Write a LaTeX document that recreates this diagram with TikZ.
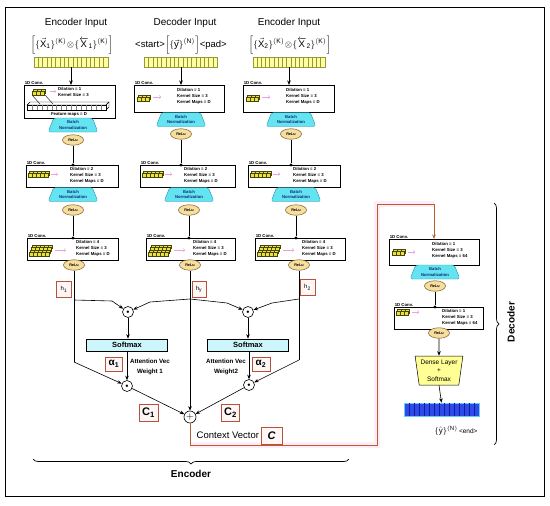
\documentclass[tikz,border=0pt]{standalone}
\usepackage{fontspec}
\setmainfont{Liberation Sans}
\setsansfont{Liberation Sans}
\usetikzlibrary{arrows.meta,shapes.geometric,decorations.pathreplacing,calc}
\definecolor{bnfill}{RGB}{100,228,240}
\definecolor{bndraw}{RGB}{40,150,180}
\definecolor{bntext}{RGB}{20,40,120}
\definecolor{relufill}{RGB}{246,222,158}
\definecolor{reludraw}{RGB}{120,85,30}
\definecolor{inyel}{RGB}{255,255,160}
\definecolor{inyeldraw}{RGB}{150,150,60}
\definecolor{cellyel}{RGB}{236,224,60}
\definecolor{celldraw}{RGB}{70,70,10}
\definecolor{ctxcol}{RGB}{185,95,45}
\definecolor{redbox}{RGB}{185,80,60}
\definecolor{lblfill}{RGB}{255,246,246}
\definecolor{pinkbg}{RGB}{255,236,246}
\definecolor{smfill}{RGB}{204,246,252}
\definecolor{barblue}{RGB}{45,75,235}
\definecolor{barline}{RGB}{20,30,150}
\definecolor{pinkarrow}{RGB}{235,160,225}
\definecolor{densefill}{RGB}{255,255,150}
\newcommand\tensico[6]{%
 \foreach \k in {#4,...,1}{%
  \foreach \i in {1,...,#3}{%
   \draw[fill=cellyel,draw=celldraw,line width=0.3pt]
     ({#1+(\i-1)*4+(\k-1)*#5},{#2-(\k-1)*#6}) rectangle ++(4,-3.4);
  }}}
\newcommand\cellsin[4]{%
 \foreach \q in {1,...,#2}{\draw[#4,line width=0.4pt] ($(#1.north west)+({\q*#3},0)$) -- ($(#1.south west)+({\q*#3},0)$);}}
\begin{document}
\begin{tikzpicture}[x=1pt,y=-1pt,
 hdr/.style={font=\fontsize{10}{12}\selectfont, inner sep=0},
 frm/.style={font=\fontsize{9.5}{11}\selectfont, inner sep=0},
 inbar/.style={draw=inyeldraw, fill=inyel, minimum height=10, inner sep=0, line width=0.5pt},
 convbox/.style={draw, fill=white, anchor=north west, inner sep=0, line width=0.6pt},
 boxtxt/.style={font=\fontsize{4.3}{6.3}\selectfont\bfseries, align=left, anchor=north west, inner sep=0},
 convlbl/.style={font=\fontsize{4.3}{5}\selectfont\bfseries, anchor=south west, inner sep=0.6pt},
 bnbox/.style={trapezium, trapezium left angle=65, trapezium right angle=65, trapezium stretches=true, draw=bndraw, fill=bnfill, rounded corners=2.5pt, minimum width=50, minimum height=14, inner sep=0, align=center, text=bntext, font=\fontsize{4.2}{5.5}\selectfont\bfseries},
 relu/.style={ellipse, draw=reludraw, fill=relufill, minimum width=21, minimum height=10.5, inner sep=0, line width=0.5pt, font=\fontsize{3.8}{4}\selectfont\bfseries},
 jdot/.style={circle, fill=black, inner sep=0, minimum size=3.2},
 opc/.style={circle, draw, fill=white, inner sep=0, minimum size=11, line width=0.6pt},
 softbox/.style={draw, fill=smfill, minimum width=81, minimum height=12, inner sep=0, line width=0.6pt, font=\fontsize{7.5}{8}\selectfont\bfseries},
 lblbox/.style={draw=redbox, fill=lblfill, inner sep=0, line width=0.6pt},
 attn/.style={font=\fontsize{6.2}{10}\selectfont\bfseries, align=center, inner sep=0},
 ln/.style={line width=0.6pt},
 arr/.style={line width=0.6pt, -{Stealth[length=4.5pt,width=3.5pt]}},
 parr/.style={draw=pinkarrow, line width=0.4pt, -{Straight Barb[length=1.5pt,width=3pt]}},
 ctxl/.style={draw=ctxcol, line width=0.9pt},
 brc/.style={decorate, decoration={brace, amplitude=5pt}, line width=0.7pt}
]
\useasboundingbox (0,0) rectangle (550,506);
\draw[line width=0.8pt] (5,7) rectangle (544,496);

% headers
\node[hdr] (h1t) at (76,23) {Encoder Input};
\node[hdr] (h2t) at (185,23) {Decoder Input};
\node[hdr] (h3t) at (289,23) {Encoder Input};
\node[frm] (f1) at (72,45) {$\Bigl[\{\vec{\mathsf{X}}_{\mathsf{1}}\}^{\mathsf{(K)}}\!\otimes\!\{\overleftarrow{\mathsf{X}}_{\mathsf{1}}\}^{\mathsf{(K)}}\Bigr]$};
\node[frm] (f2) at (181,45) {<start>$\Bigl[\{\vec{\mathsf{y}}\}^{\mathsf{(N)}}\Bigr]$<pad>};
\node[frm] (f3) at (290,45) {$\Bigl[\{\vec{\mathsf{X}}_{\mathsf{2}}\}^{\mathsf{(K)}}\!\otimes\!\{\overleftarrow{\mathsf{X}}_{\mathsf{2}}\}^{\mathsf{(K)}}\Bigr]$};

% input bars
\node[inbar, minimum width=74] (in1) at (71,62) {};
\node[inbar, minimum width=73] (in2) at (181,62) {};
\node[inbar, minimum width=72] (in3) at (289,62) {};
\cellsin{in1}{16}{4.353}{inyeldraw}
\cellsin{in2}{16}{4.294}{inyeldraw}
\cellsin{in3}{16}{4.235}{inyeldraw}

% conv boxes
\node[convbox, minimum width=91, minimum height=33] (b11) at (24,85) {};
\node[convbox, minimum width=92, minimum height=22] (b12) at (26,165) {};
\node[convbox, minimum width=91, minimum height=22] (b13) at (27,238) {};
\node[convbox, minimum width=90, minimum height=27] (b21) at (134,85) {};
\node[convbox, minimum width=95, minimum height=22] (b22) at (140,165) {};
\node[convbox, minimum width=89, minimum height=22] (b23) at (146,238) {};
\node[convbox, minimum width=91, minimum height=27] (b31) at (243,85) {};
\node[convbox, minimum width=92, minimum height=22] (b32) at (248,165) {};
\node[convbox, minimum width=90, minimum height=22] (b33) at (255,238) {};
\node[convbox, minimum width=90, minimum height=26] (db1) at (389,239) {};
\node[convbox, minimum width=89, minimum height=22] (db2) at (394,307) {};
\foreach \b in {b11,b12,b13,b21,b22,b23,b31,b32,b33,db1,db2}
  \node[convlbl] (l\b) at (\b.north west) {1D Conv.};

% box texts
\node[boxtxt] (t11) at (58,87) {Dilation = 1\\Kernel Size = 3};
\node[font=\fontsize{4.3}{5}\selectfont\bfseries, inner sep=0] (t11b) at (69,114) {Feature maps = D};
\node[boxtxt] (t21) at (177,88) {Dilation = 1\\Kernel Size = 3\\Kernel Maps = D};
\node[boxtxt] (t31) at (286,88) {Dilation = 1\\Kernel Size = 3\\Kernel Maps = D};
\node[boxtxt] (t12) at (70,167) {Dilation = 2\\Kernel Size = 3\\Kernel Maps = D};
\node[boxtxt] (t22) at (184,167) {Dilation = 2\\Kernel Size = 3\\Kernel Maps = D};
\node[boxtxt] (t32) at (293,167) {Dilation = 2\\Kernel Size = 3\\Kernel Maps = D};
\node[boxtxt] (t13) at (76,240) {Dilation = 4\\Kernel Size = 3\\Kernel Maps = D};
\node[boxtxt] (t23) at (193,240) {Dilation = 4\\Kernel Size = 3\\Kernel Maps = D};
\node[boxtxt] (t33) at (302,240) {Dilation = 4\\Kernel Size = 3\\Kernel Maps = D};
\node[boxtxt] (td1) at (432,242) {Dilation = 1\\Kernel Size = 3\\Kernel Maps = 64};
\node[boxtxt] (td2) at (442,309) {Dilation = 1\\Kernel Size = 3\\Kernel Maps = 64};

% first box: kernel over feature maps
\draw[fill=white, line width=0.4pt] (27,105) -- (30,102) -- (109,102) -- (106,105) -- cycle;
\draw[fill=white, line width=0.4pt] (106,105) -- (109,102) -- (109,107) -- (106,110) -- cycle;
\draw[fill=white, line width=0.4pt] (27,105) rectangle (106,110);
\foreach \q in {1,...,15} \draw[gray, line width=0.3pt] ({27+\q*4.94},105) -- ({27+\q*4.94},110);
\draw[line width=0.4pt] (32,95) -- (40,104);
\draw[line width=0.4pt] (45,95) -- (53,104);
\tensico{32}{95}{3}{2}{1.5}{2}
\draw[parr] (50,91) -- (56,91);

% icons
\tensico{137}{101}{3}{2}{1.5}{2}
\draw[parr] (153,97) -- (161,97);
\tensico{246}{101}{3}{2}{1.5}{2}
\draw[parr] (262,97) -- (270,97);
\tensico{28}{177}{5}{2}{1.5}{2}
\draw[parr] (51,174) -- (58,174);
\tensico{142}{177}{5}{2}{1.5}{2}
\draw[parr] (165,174) -- (172,174);
\tensico{250}{177}{5}{2}{1.5}{2}
\draw[parr] (273,174) -- (280,174);
\tensico{29}{256}{5}{4}{1.2}{2.6}
\draw[parr] (55,250) -- (66,250);
\tensico{148}{256}{5}{4}{1.2}{2.6}
\draw[parr] (174,250) -- (185,250);
\tensico{257}{256}{5}{4}{1.2}{2.6}
\draw[parr] (283,250) -- (294,250);
\tensico{392}{255}{3}{2}{1.5}{2}
\draw[parr] (408,252) -- (415,252);
\tensico{396}{315}{3}{2}{1.5}{2}
\draw[parr] (412,312) -- (419,312);

% batch norm and relu
\node[bnbox] (n11) at (73,125) {Batch\\Normalization};
\node[relu] (r11) at (73,140) {ReLu};
\node[bnbox] (n21) at (181,119.5) {Batch\\Normalization};
\node[relu] (r21) at (181,134) {ReLu};
\node[bnbox] (n31) at (291,119.5) {Batch\\Normalization};
\node[relu] (r31) at (291,134) {ReLu};
\node[bnbox] (n12) at (73,194.5) {Batch\\Normalization};
\node[relu] (r12) at (73,210) {ReLu};
\node[bnbox] (n22) at (189,194.5) {Batch\\Normalization};
\node[relu] (r22) at (189,210) {ReLu};
\node[bnbox] (n32) at (296,194.5) {Batch\\Normalization};
\node[relu] (r32) at (296,210) {ReLu};
\node[relu] (r13) at (74,265) {ReLu};
\node[relu] (r23) at (190,265) {ReLu};
\node[relu] (r33) at (299,265) {ReLu};
\node[bnbox] (dn1) at (435,272) {Batch\\Normalization};
\node[relu] (dr1) at (435,286) {ReLu};
\node[relu] (dr2) at (439,333) {ReLu};

% junction dots
\node[jdot] (d12) at (73,165) {};
\node[jdot] (d22) at (181,165) {};
\node[jdot] (d32) at (291,165) {};
\node[jdot] (d13) at (73,238) {};
\node[jdot] (d23) at (189,238) {};
\node[jdot] (d33) at (296,238) {};
\node[jdot] (dd2) at (435,307) {};

% input arrows and vertical links
\draw[arr] (in1.south) -- (in1.south |- b11.north);
\draw[arr] (in2.south) -- (in2.south |- b21.north);
\draw[arr] (in3.south) -- (in3.south |- b31.north);
\draw[ln] (r11.south) -- (d12);
\draw[ln] (r21.south) -- (d22);
\draw[ln] (r31.south) -- (d32);
\draw[ln] (r12.south) -- (d13);
\draw[ln] (r22.south) -- (d23);
\draw[ln] (r32.south) -- (d33);
\draw[ln] (dr1.south) -- (dd2);

% attention part
\node[opc] (ua) at (128,312) {\fontsize{4}{4}\selectfont$\bullet$};
\node[opc] (ub) at (248,312) {\fontsize{4}{4}\selectfont$\bullet$};
\node[opc] (la) at (127,386) {\fontsize{4}{4}\selectfont$\bullet$};
\node[opc] (lb) at (249,385) {\fontsize{4}{4}\selectfont$\bullet$};
\node[opc, minimum size=12] (pl) at (190,417) {\fontsize{10}{10}\selectfont$+$};
\node[softbox] (sm1) at (127,345) {Softmax};
\node[softbox] (sm2) at (248,345) {Softmax};

\node[lblbox, minimum width=15, minimum height=16, font=\fontsize{6}{6}\selectfont] (hb1) at (64,289.5) {h\textsubscript{1}};
\node[lblbox, minimum width=14, minimum height=16, font=\fontsize{6}{6}\selectfont] (hby) at (199,289.5) {h\textsubscript{y}};
\node[lblbox, minimum width=15, minimum height=16, font=\fontsize{6}{6}\selectfont] (hb2) at (307.5,287.5) {h\textsubscript{2}};

\coordinate (j1) at (74,300);
\coordinate (j1b) at (112,301);
\coordinate (j2) at (190,299);
\coordinate (j2a) at (150,302);
\coordinate (j2b) at (227,303);
\coordinate (j3) at (299,299);
\coordinate (j3a) at (272,303);
\coordinate (k1) at (74,362);
\coordinate (k3) at (299,360);

\draw[ln] (r13.south) -- (k1);
\draw[ln] (r33.south) -- (k3);
\draw[arr] (j1) -- (j1b) -- (ua);
\draw[arr] (j2) -- (j2a) -- (ua);
\draw[arr] (j2) -- (j2b) -- (ub);
\draw[arr] (j3) -- (j3a) -- (ub);
\draw[arr] (ua.south) -- (ua.south |- sm1.north);
\draw[arr] (ub.south) -- (ub.south |- sm2.north);
\draw[arr] (sm1.south -| la) -- (la.north);
\draw[arr] (sm2.south -| lb) -- (lb.north);
\draw[arr] (k1) -- (la);
\draw[arr] (k3) -- (lb);
\draw[arr] (r23.south) -- (pl.north);
\draw[arr] (la) -- (pl);
\draw[arr] (lb) -- (pl);

\node[lblbox, minimum width=17, minimum height=14, font=\fontsize{10}{10}\selectfont\bfseries] (al1) at (114,364) {α\textsubscript{1}};
\node[lblbox, minimum width=18, minimum height=14, font=\fontsize{10}{10}\selectfont\bfseries] (al2) at (261,364) {α\textsubscript{2}};
\node[attn] (aw1) at (150,367) {Attention Vec\\Weight 1};
\node[attn] (aw2) at (226,367) {Attention Vec\\Weight2};
\node[lblbox, minimum width=19, minimum height=17, font=\fontsize{11}{11}\selectfont\bfseries] (c1) at (148.5,412.5) {C\textsubscript{1}};
\node[lblbox, minimum width=18, minimum height=17, font=\fontsize{11}{11}\selectfont\bfseries] (c2) at (230.5,412.5) {C\textsubscript{2}};

% context vector path
\coordinate (cv0) at (190,445);
\coordinate (cv1) at (377,445);
\coordinate (cv2) at (377,204);
\coordinate (cv3) at (434,204);
\draw[pinkbg, line width=6pt] (cv0) -- (cv1) -- (cv2) -- (cv3);
\draw[ctxl, -{Stealth[length=4.5pt,width=3.5pt]}] (pl.south) -- (cv0) -- (cv1) -- (cv2) -- (cv3) -- (cv3 |- db1.north);
\node[lblbox, minimum width=21, minimum height=17, font=\fontsize{11}{11}\selectfont\bfseries\itshape] (cc) at (271.5,435.5) {C};
\node[font=\fontsize{9.5}{10}\selectfont, anchor=east, inner sep=1.5pt] (cvt) at (cc.west) {Context Vector};

% decoder output
\node[trapezium, trapezium left angle=80, trapezium right angle=80, shape border rotate=180, trapezium stretches=true, minimum width=48, minimum height=29, draw, fill=densefill, inner sep=0, align=center, line width=0.5pt, font=\fontsize{6.5}{8.5}\selectfont] (dense) at (439,370.5) {Dense Layer\\+\\Softmax};
\node[draw=cyan!60, fill=barblue, minimum width=75, minimum height=13, inner sep=0, line width=0.6pt] (obar) at (441.5,409.5) {};
\cellsin{obar}{14}{5}{barline}
\draw[arr] (dr2.south) -- (dense.north);
\draw[arr] (dense.south) -- (obar.north);
\node[font=\fontsize{8}{9}\selectfont, inner sep=0] (ytxt) at (456,431) {$\{\hat{\mathsf{y}}\}^{\mathsf{(N)}}$\,{\fontsize{6.5}{7}\selectfont<end>}};

% braces
\coordinate (eb1) at (349,459);
\coordinate (eb2) at (33,459);
\draw[brc] (eb1) -- (eb2);
\node[font=\fontsize{10}{12}\selectfont\bfseries, inner sep=0] (enc) at (191,474) {Encoder};
\coordinate (db1a) at (494,203);
\coordinate (db1b) at (494,445);
\draw[brc] (db1a) -- (db1b);
\node[rotate=90, font=\fontsize{10}{12}\selectfont\bfseries, inner sep=0] (dec) at (511,322) {Decoder};
\end{tikzpicture}
\end{document}
